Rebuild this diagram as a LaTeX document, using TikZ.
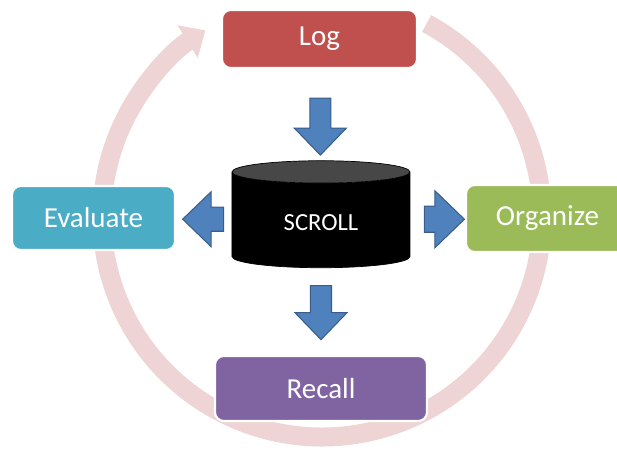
\documentclass[tikz,border=0pt]{standalone}
\usepackage{fontspec}
\setmainfont{Carlito}
\usepackage{tikz}
\usetikzlibrary{shapes.geometric, shapes.arrows, arrows.meta, positioning, calc}
\definecolor{logred}{RGB}{192,80,77}
\definecolor{evalteal}{RGB}{75,172,198}
\definecolor{orggreen}{RGB}{155,187,89}
\definecolor{recpurple}{RGB}{128,100,162}
\definecolor{blkblue}{RGB}{79,129,189}
\definecolor{blkedge}{RGB}{56,93,138}
\definecolor{ringpink}{RGB}{238,212,212}
\tikzset{
  stage/.style={rectangle, draw=white, line width=1.2pt,
    rounded corners=5pt, text=white, align=center, inner sep=0pt,
    font=\fontsize{16.5}{19}\selectfont},
  store/.style={cylinder, shape border rotate=90, aspect=0.3,
    cylinder uses custom fill, cylinder body fill=black,
    cylinder end fill=black!72, draw=black, text=white,
    minimum width=3.56cm, minimum height=2.14cm, inner sep=0pt,
    font=\fontsize{14}{16}\selectfont},
  blockarrow/.style={single arrow, draw=blkedge, fill=blkblue,
    line width=0.6pt, inner sep=0pt, minimum width=0pt,
    single arrow head extend=0.31cm, single arrow tip angle=88},
  ringarrow/.style={line width=0.38cm, color=ringpink,
    -{Triangle[width=0.74cm, length=0.42cm]}}
}

\begin{document}
\begin{tikzpicture}
  \path[use as bounding box, clip] (0,0) rectangle (12.34,9);
  % big cycle behind everything
  \draw[ringarrow] (6.44,4.66) ++(61.6:4.40)
    arc[start angle=61.6, end angle=-238, radius=4.40];
  % stages
  \node[stage, fill=logred, minimum width=3.9cm, minimum height=1.16cm]
    (log) at (6.39,8.22) {Log};
  \node[stage, fill=evalteal, minimum width=3.26cm, minimum height=1.28cm]
    (evaluate) at (1.87,4.64) {Evaluate};
  \node[stage, fill=orggreen, minimum width=3.26cm, minimum height=1.34cm]
    (organize) at (10.95,4.63) {Organize};
  \node[stage, fill=recpurple, minimum width=4.24cm, minimum height=1.30cm]
    (recall) at (6.42,1.23) {Recall};
  % the store
  \node[store] (scroll) at (6.42,4.60) {\raisebox{-0.22cm}[0pt][0pt]{SCROLL}};
  % block arrows
  \node[blockarrow, rotate=-90, minimum height=1.14cm, inner ysep=0.2cm]
    (a1) at ($(log.south)!0.57!(scroll.north)$) {};
  \node[blockarrow, rotate=180, minimum height=0.82cm, inner ysep=0.23cm]
    (a2) at ($(scroll.west)!0.4!(evaluate.east)$) {};
  \node[blockarrow, minimum height=0.8cm, inner ysep=0.25cm]
    (a3) at ($(scroll.east)!0.5!(organize.west)$) {};
  \node[blockarrow, rotate=-90, minimum height=1.08cm, inner ysep=0.2cm]
    (a4) at ($(scroll.south)!0.45!(recall.north)$) {};
\end{tikzpicture}
\end{document}
